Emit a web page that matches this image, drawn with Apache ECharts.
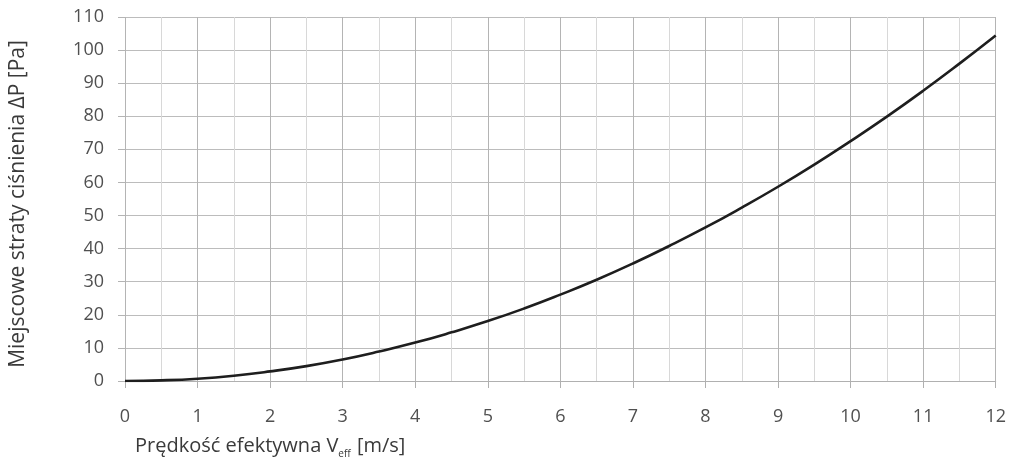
<!DOCTYPE html>
<html><head><meta charset="utf-8">
<script src="https://cdn.jsdelivr.net/npm/echarts@6/dist/echarts.min.js"></script>
<style>html,body{margin:0;padding:0;background:#fff}#c{width:1009px;height:462px}</style>
</head><body><div id="c"></div>
<script>
const velocity = [0,0.5,1,1.5,2,2.5,3,3.5,4,4.5,5,5.5,6,6.5,7,7.5,8,8.5,9,9.5,10,10.5,11,11.5,12];
const pressure = [0,0.2,0.7,1.6,2.9,4.5,6.5,8.9,11.6,14.7,18.1,21.9,26.1,30.6,35.5,40.8,46.4,52.4,58.7,65.4,72.5,79.9,87.7,95.9,104.4];
const yAxisTitle = 'Miejscowe straty ciśnienia ΔP [Pa]';

const chart = echarts.init(document.getElementById('c'));
chart.setOption({
  animation:false,
  grid:{left:125,right:13,top:17,bottom:81,containLabel:false},
  xAxis:{type:'value',min:0,max:12,interval:1,
    name:'{a|Prędkość efektywna V}{s|eff}{a| [m/s]}',nameLocation:'start',nameGap:0,
    nameTextStyle:{align:'left',verticalAlign:'top',padding:[53,0,0,10],
      rich:{a:{fontFamily:'Open Sans',fontSize:20,color:'#3a3a3a'},s:{fontFamily:'Open Sans',fontSize:10,color:'#3a3a3a',verticalAlign:'bottom',padding:[15,1,0,0]}}},
    axisLine:{show:true,lineStyle:{color:'#b0b0b0',width:1}},
    axisTick:{show:true,length:7,lineStyle:{color:'#b0b0b0'}},
    axisLabel:{margin:27,fontFamily:'Open Sans',fontSize:18,color:'#505050'},
    splitLine:{show:true,lineStyle:{color:'#b4b4b4',width:1}},
    minorTick:{show:false,splitNumber:2},
    minorSplitLine:{show:true,lineStyle:{color:'#d8d8d8',width:1}}
  },
  yAxis:{type:'value',min:0,max:110,interval:10,
    name:yAxisTitle,nameLocation:'middle',nameGap:96,nameRotate:90,
    nameTextStyle:{fontFamily:'Open Sans',fontSize:21,color:'#3a3a3a',padding:[0,10,0,0]},
    axisLine:{show:false},
    axisTick:{show:true,length:7,lineStyle:{color:'#b4b4b4'}},
    axisLabel:{margin:21,fontFamily:'Open Sans',fontSize:18,color:'#505050'},
    splitLine:{show:true,lineStyle:{color:'#bcbcbc',width:1}}
  },
  series:[{type:'line',data:velocity.map((v,i)=>[v,pressure[i]]),smooth:true,showSymbol:false,
    lineStyle:{color:'#1e1e1e',width:2.6}}]
});
</script></body></html>
